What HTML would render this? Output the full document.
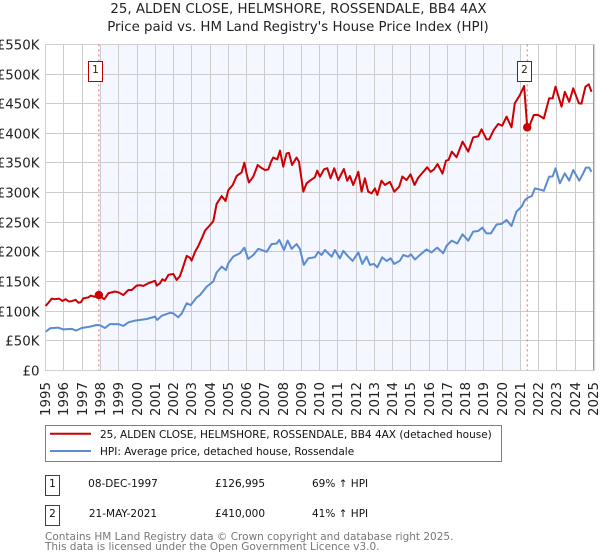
<!DOCTYPE html>
<html lang="en">
<head>
<meta charset="utf-8">
<title>25, ALDEN CLOSE price paid vs HPI</title>
<style>
html,body{margin:0;padding:0;background:#fff;width:600px;height:560px;overflow:hidden}
svg{display:block;font-family:"DejaVu Sans","Liberation Sans",sans-serif}
</style>
</head>
<body>
<svg id="chart" xmlns="http://www.w3.org/2000/svg" width="600" height="560" viewBox="0 0 600 560">
  <text x="298.5" y="13" text-anchor="middle" font-size="13.35" fill="#222">25, ALDEN CLOSE, HELMSHORE, ROSSENDALE, BB4 4AX</text>
  <text x="298" y="31" text-anchor="middle" font-size="13.35" fill="#222">Price paid vs. HM Land Registry's House Price Index (HPI)</text>
  <g id="plot"></g>

  <rect x="45.5" y="425.5" width="456" height="36" fill="#fff" stroke="#808080" stroke-width="1"/>
  <line x1="50" x2="91" y1="433.7" y2="433.7" stroke="#cc0000" stroke-width="2"/>
  <text x="100" y="438" font-size="10.5" fill="#111">25, ALDEN CLOSE, HELMSHORE, ROSSENDALE, BB4 4AX (detached house)</text>
  <line x1="50" x2="91" y1="451" y2="451" stroke="#5b8bd0" stroke-width="2"/>
  <text x="100" y="455" font-size="10.5" fill="#111">HPI: Average price, detached house, Rossendale</text>

  <g font-size="10.5" fill="#111">
    <rect x="45.5" y="475.5" width="14" height="20" fill="#fff" stroke="#cc0000"/>
    <text x="52.5" y="487" text-anchor="middle">1</text>
    <text x="123" y="487" text-anchor="middle">08-DEC-1997</text>
    <text x="240" y="487" text-anchor="middle">£126,995</text>
    <text x="312" y="487">69% ↑ HPI</text>
  </g>
  <g font-size="10.5" fill="#111">
    <rect x="45.5" y="505.5" width="14" height="20" fill="#fff" stroke="#cc0000"/>
    <text x="52.5" y="517" text-anchor="middle">2</text>
    <text x="123" y="517" text-anchor="middle">21-MAY-2021</text>
    <text x="240" y="517" text-anchor="middle">£410,000</text>
    <text x="312" y="517">41% ↑ HPI</text>
  </g>
  <text x="45" y="540" font-size="10.5" fill="#777">Contains HM Land Registry data © Crown copyright and database right 2025.</text>
  <text x="45" y="550" font-size="10.5" fill="#777">This data is licensed under the Open Government Licence v3.0.</text>
</svg>
<script>
var yTickValues = [0, 50, 100, 150, 200, 250, 300, 350, 400, 450, 500, 550];
var yTickLabels = ["£0", "£50K", "£100K", "£150K", "£200K", "£250K", "£300K", "£350K", "£400K", "£450K", "£500K", "£550K"];
var xTickYears = [1995, 1996, 1997, 1998, 1999, 2000, 2001, 2002, 2003, 2004, 2005, 2006, 2007, 2008, 2009, 2010, 2011, 2012, 2013, 2014, 2015, 2016, 2017, 2018, 2019, 2020, 2021, 2022, 2023, 2024, 2025];
var shadedRange = [1998, 2021];
var saleYears = [1997.91, 2021.37];
var saleValues = [126.995, 410];
var saleNumbers = ["1", "2"];

var paidYears = [1995, 1995.15, 1995.33, 1995.51, 1995.73, 1995.91, 1996.09, 1996.28, 1996.46, 1996.64, 1996.79, 1996.93, 1997.06, 1997.34, 1997.46, 1997.70, 1997.91, 1998.07, 1998.21, 1998.43, 1998.80, 1999.03, 1999.25, 1999.53, 1999.71, 1999.98, 2000.16, 2000.35, 2000.62, 2000.99, 2001.08, 2001.26, 2001.39, 2001.53, 2001.72, 2001.99, 2002.17, 2002.35, 2002.50, 2002.72, 2002.90, 2002.99, 2003.18, 2003.36, 2003.59, 2003.72, 2004.00, 2004.18, 2004.36, 2004.64, 2004.85, 2005.00, 2005.24, 2005.46, 2005.73, 2005.88, 2006.00, 2006.13, 2006.37, 2006.61, 2006.79, 2007.01, 2007.19, 2007.34, 2007.46, 2007.68, 2007.83, 2008.01, 2008.19, 2008.32, 2008.49, 2008.74, 2008.87, 2009.11, 2009.29, 2009.47, 2009.74, 2009.87, 2010.02, 2010.24, 2010.42, 2010.60, 2010.80, 2011.02, 2011.33, 2011.51, 2011.66, 2011.84, 2012.12, 2012.30, 2012.48, 2012.66, 2012.85, 2013.03, 2013.16, 2013.39, 2013.58, 2013.85, 2014.09, 2014.36, 2014.53, 2014.76, 2014.98, 2015.20, 2015.40, 2015.89, 2016.08, 2016.26, 2016.46, 2016.73, 2016.92, 2017.06, 2017.24, 2017.50, 2017.83, 2018.14, 2018.41, 2018.69, 2018.87, 2019.14, 2019.29, 2019.54, 2019.78, 2020.00, 2020.24, 2020.51, 2020.69, 2020.97, 2021.20, 2021.37, 2021.51, 2021.73, 2021.97, 2022.28, 2022.57, 2022.76, 2022.92, 2023.25, 2023.43, 2023.67, 2023.89, 2024.20, 2024.34, 2024.43, 2024.56, 2024.74, 2024.89];
var paidValues = [108.6, 114, 121, 120, 121, 117, 120, 116, 117, 119, 114, 115, 121.5, 123, 126, 124, 127, 123, 120, 130, 133, 131, 127, 135.6, 135.6, 143, 143.5, 142.5, 147, 151, 143, 147, 153.6, 151, 161, 162.6, 152.5, 159, 172, 193, 190, 185, 200, 210, 225.5, 235.6, 245, 252, 280.7, 294, 285.7, 304, 312.7, 328, 334, 350.4, 332, 317, 327, 346.5, 342, 338, 339, 352, 359, 356, 370.7, 343.7, 366, 367, 346.5, 359, 352, 301.5, 315.6, 320, 325.7, 337, 326.8, 339, 341, 324, 341, 321, 339.7, 320, 328, 312.7, 335, 301.5, 324, 301.5, 298.7, 307, 295.9, 320, 312.7, 318, 301.5, 310, 327, 321, 330.7, 312.7, 325, 342.6, 335, 339, 348, 332, 353.8, 355, 369, 359.5, 385.9, 369, 393, 395, 406.7, 389.8, 390, 405.6, 415.7, 412.9, 428, 410, 450.6, 464.6, 479.8, 410, 414, 430.9, 431, 425, 459, 459, 478.7, 445, 470, 453, 475.9, 450.6, 450, 462, 478.7, 482.6, 470];

var hpiYears = [1995, 1995.24, 1995.69, 1995.97, 1996.42, 1996.66, 1996.97, 1997.43, 1997.79, 1997.97, 1998.25, 1998.52, 1998.98, 1999.25, 1999.53, 1999.89, 2000.53, 2000.99, 2001.11, 2001.35, 2001.81, 2001.99, 2002.26, 2002.45, 2002.72, 2002.94, 2003.27, 2003.45, 2003.81, 2004.18, 2004.36, 2004.64, 2004.87, 2005.00, 2005.27, 2005.64, 2005.88, 2006.09, 2006.37, 2006.64, 2007.10, 2007.37, 2007.65, 2007.79, 2008.05, 2008.25, 2008.47, 2008.74, 2008.92, 2009.14, 2009.38, 2009.74, 2009.93, 2010.11, 2010.29, 2010.66, 2010.84, 2011.11, 2011.30, 2011.57, 2011.81, 2012.12, 2012.34, 2012.57, 2012.76, 2012.97, 2013.16, 2013.43, 2013.67, 2013.89, 2014.09, 2014.40, 2014.58, 2014.85, 2015.00, 2015.22, 2015.49, 2015.86, 2016.13, 2016.44, 2016.77, 2016.95, 2017.23, 2017.54, 2017.83, 2018.14, 2018.41, 2018.69, 2018.91, 2019.14, 2019.38, 2019.69, 2019.96, 2020.24, 2020.51, 2020.78, 2021.06, 2021.24, 2021.39, 2021.62, 2021.79, 2022.06, 2022.28, 2022.57, 2022.76, 2022.92, 2023.16, 2023.43, 2023.67, 2023.89, 2024.22, 2024.43, 2024.58, 2024.76, 2024.89];
var hpiValues = [65, 70.9, 72, 69, 70, 67, 71.4, 73.7, 76.5, 76, 71.4, 78, 78, 74.8, 81, 83.8, 86.6, 90.6, 85, 92, 97, 96, 89.5, 96, 113, 110, 123, 127, 141, 150, 165, 175, 169, 180.6, 192, 197.5, 207, 188, 194.6, 205, 200, 213, 214, 220, 203, 219, 205, 213, 205, 177.8, 189, 190.7, 200, 194.6, 203, 191.8, 203, 189, 201.4, 192, 184.5, 199, 179.5, 191.8, 177.8, 179.5, 173.8, 190.7, 184.5, 189, 179.5, 185, 194.6, 191.8, 195.8, 187, 194.6, 204, 199, 207, 197.5, 210, 218.8, 214, 229.5, 218.8, 234, 235, 240.8, 231, 231, 246, 247, 253.7, 243.6, 267.8, 276, 287, 291, 294, 307, 305, 303, 326.8, 327, 340.9, 315.5, 332.4, 320, 338, 320, 332, 342, 342, 335];

var NS = "http://www.w3.org/2000/svg";
var plot = document.getElementById("plot");
var left = 45.7, right = 593.5, top0 = 44.4, bottom = 370.3;
function xScale(year) { return left + (year - 1995) * (right - left) / 30; }
function yScale(value) { return bottom - value * (bottom - top0) / 550; }
function snap(v) { return Math.round(v - 0.5) + 0.5; }
function make(tag, attrs) {
  var el = document.createElementNS(NS, tag);
  for (var k in attrs) { el.setAttribute(k, attrs[k]); }
  return el;
}
function pathFrom(years, values) {
  return years.map(function (yr, i) {
    return (i ? "L" : "M") + xScale(yr).toFixed(2) + " " + yScale(values[i]).toFixed(2);
  }).join(" ");
}

var shade = make("rect", { x: xScale(shadedRange[0]), y: top0, width: xScale(shadedRange[1]) - xScale(shadedRange[0]), height: bottom - top0, fill: "#f4f7ff" });


plot.appendChild(shade);

yTickValues.forEach(function (v, i) {
  var y = snap(yScale(v));
  var line = make("line", { x1: left, x2: right + 1, y1: y, y2: y, stroke: "#cccccc", "stroke-width": 1 });
  
  
  plot.appendChild(line);
  var label = make("text", { x: 39.5, y: y + 5, "text-anchor": "end", "font-size": 13.35, fill: "#222" });
  
  
  label.textContent = yTickLabels[i];
  plot.appendChild(label);
});

xTickYears.forEach(function (yr) {
  var x = snap(xScale(yr));
  var line = make("line", { x1: x, x2: x, y1: top0, y2: bottom, stroke: yr === 2025 ? "#999999" : "#cccccc", "stroke-width": 1 });
  
  
  plot.appendChild(line);
  var label = make("text", { "text-anchor": "end", "font-size": 13.35, fill: "#222", transform: "translate(" + (x + 4.5) + ",382) rotate(-90)" });
  
  
  label.textContent = yr;
  plot.appendChild(label);
});

var edge = make("path", { d: "M45.5 44.5H594.7V370.5H45.5Z", fill: "none", stroke: "#d0d0d0", "stroke-width": 1 });


plot.appendChild(edge);

saleYears.forEach(function (yr) {
  var x = xScale(yr);
  var line = make("line", { x1: x, x2: x, y1: top0, y2: bottom, stroke: "#ee6677", "stroke-width": 1, "stroke-dasharray": "2 3" });
  
  
  plot.appendChild(line);
});

var hpiLine = make("path", { d: pathFrom(hpiYears, hpiValues), fill: "none", stroke: "#5b8bd0", "stroke-width": 2, "stroke-linejoin": "round" });


plot.appendChild(hpiLine);

var paidLine = make("path", { d: pathFrom(paidYears, paidValues), fill: "none", stroke: "#cc0000", "stroke-width": 2, "stroke-linejoin": "round" });


plot.appendChild(paidLine);

saleYears.forEach(function (yr, i) {
  var dot = make("circle", { cx: xScale(yr), cy: yScale(saleValues[i]), r: 4.2, fill: "#cc0000" });
  
  
  plot.appendChild(dot);
  var bx = Math.round(xScale(yr)) - (i === 0 ? 10.5 : 9.5);
  var box = make("rect", { x: bx, y: 61.5, width: 14, height: 20, fill: "#fff", stroke: "#bb0000", "stroke-width": 1 });
  
  
  plot.appendChild(box);
  var num = make("text", { x: bx + 7, y: 73, "text-anchor": "middle", "font-size": 10.5, fill: "#222" });
  
  
  num.textContent = saleNumbers[i];
  plot.appendChild(num);
});
</script>
</body>
</html>
